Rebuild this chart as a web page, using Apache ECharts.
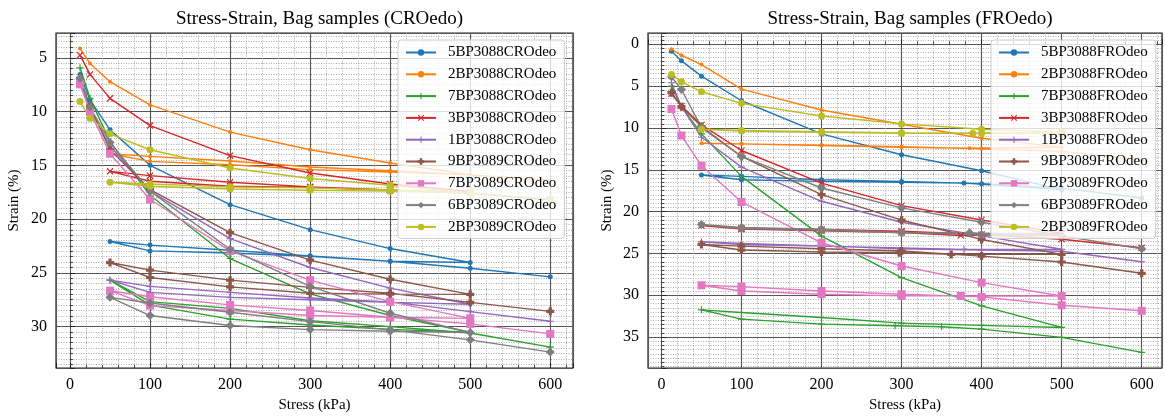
<!DOCTYPE html>
<html><head><meta charset="utf-8">
<script src="https://cdn.jsdelivr.net/npm/echarts@6/dist/echarts.min.js"></script>
<style>html,body{margin:0;padding:0;background:#fff}#c{width:1165px;height:419px}</style>
</head><body><div id="c"></div>
<script>
// ---------- data ----------
const SAMPLES = ['5BP3088','2BP3088','7BP3088','3BP3088','1BP3088','9BP3089','7BP3089','6BP3089','2BP3089'];
const TITLES = ['Stress-Strain, Bag samples (CROedo)', 'Stress-Strain, Bag samples (FROedo)'];
const X_LABEL = 'Stress (kPa)';
const Y_LABEL = 'Strain (%)';

// CRO: load 12.5..500, unload 400..50, reload 100..600
const STRESS_CRO = [12.5,25,50,100,200,300,400,500, 400,300,200,100,50, 100,200,300,400,500,600];
const CRO_5BP3088 = [6.54,8.92,11.70,15.0,18.66,20.98,22.74,24.04, 23.92,23.45,23.15,22.96,22.08, 22.42,22.9,23.42,23.92,24.57,25.37];
const CRO_2BP3088 = [4.14,5.52,7.22,9.38,11.91,13.55,14.78,15.86, 15.62,15.40,14.95,14.63,13.92, 14.17,14.6,15.15,15.5,15.9,16.4];
const CRO_7BP3088 = [5.93,8.77,12.8,17.78,23.67,26.96,28.97,30.52, 30.26,29.85,29.3,28.0,25.68, 27.68,28.3,29.45,30.0,30.59,31.91];
const CRO_3BP3088 = [4.75,6.54,8.77,11.30,14.10,15.71,16.73,17.45, 17.35,17.05,16.94,16.48,15.56, 15.96,16.57,17.0,17.3,17.6,18.2];
const CRO_1BP3088 = [7.07,9.85,13.2,17.4,21.82,24.5,26.42,27.92, 27.75,27.5,27.28,26.82,25.68, 26.26,26.82,27.34,27.7,28.61,29.5];
const CRO_9BP3089 = [6.9,9.5,13.55,17.25,21.26,23.82,25.6,27.0, 26.98,26.9,26.3,25.43,24.04, 24.75,25.68,26.35,26.9,27.75,28.58];
const CRO_7BP3089 = [7.47,10.0,13.92,18.18,22.96,25.68,27.68,29.23, 29.13,28.97,28.5,28.05,26.66, 27.22,27.98,28.5,29.13,29.75,30.68];
const CRO_6BP3089 = [6.91,9.6,12.87,17.4,22.8,26.26,28.76,30.55, 30.43,30.28,29.9,28.97,27.28, 27.8,28.66,29.54,30.3,31.23,32.37];
const CRO_2BP3089 = [9.07,10.62,12.07,13.55,15.25,16.23,16.85,17.56, 17.4,17.31,17.2,16.94,16.57, 16.73,17.0,17.1,17.3,17.56,18.15];

// FRO: measured stresses per sample
const FRO_5BP3088_STRESS = [12.5,25,50,100,200,300,400,500, 378,300,200,100,50, 100,200,300,400,500,600];
const FRO_5BP3088 = [0.83,1.98,3.81,6.75,10.71,13.21,15.12,17.38, 16.59,16.5,16.39,16.19,15.63, 15.79,16.19,16.39,16.67,17.2,18.37];
const FRO_2BP3088_STRESS = [12.5,25,50,100,200,300,400,500, 385,300,200,100,50, 100,200,300,400,500,600];
const FRO_2BP3088 = [0.6,1.31,2.42,5.36,7.86,9.56,11.23,12.3, 12.42,12.3,12.1,11.9,11.83, 11.9,12.05,12.25,12.5,12.8,13.85];
const FRO_7BP3088_STRESS = [12.5,25,50,100,200,300,400,500, 400,300,200,100,50, 100,200,292,350,400,500,600];
const FRO_7BP3088 = [5.0,7.46,10.71,15.79,22.94,27.9,31.27,33.85, 33.6,33.33,32.66,32.06,31.75, 32.86,33.45,33.65,33.77,34.05,35.04,36.83];
const FRO_3BP3088_STRESS = [12.5,25,50,100,200,300,400,500, 374,300,200,100,50, 100,200,300,400,500,600];
const FRO_3BP3088 = [5.9,7.38,9.64,12.7,16.59,19.29,21.0,22.6, 22.86,22.5,22.3,22.1,21.67, 21.98,22.14,22.34,22.74,23.3,24.33];
const FRO_1BP3088_STRESS = [12.5,25,50,100,200,300,400,500, 378,300,200,100,50, 100,200,300,400,500,600];
const FRO_1BP3088 = [4.6,7.46,11.11,14.68,18.77,21.27,22.9,24.5, 24.52,24.35,24.13,23.93,23.61, 23.8,24.1,24.44,24.6,24.75,25.99];
const FRO_9BP3089_STRESS = [12.5,25,50,100,200,300,400,500, 362,297,200,100,50, 100,200,300,400,500,600];
const FRO_9BP3089 = [5.79,7.46,9.84,13.41,17.98,21.03,23.33,25.12, 25.12,24.92,24.84,24.6,23.93, 24.13,24.44,24.72,25.32,26.03,27.38];
const FRO_7BP3089_STRESS = [12.5,25,50,100,200,300,400,500, 374,300,200,100,50, 100,200,300,400,500,600];
const FRO_7BP3089 = [7.74,10.91,14.52,18.85,23.73,26.51,28.49,30.1, 30.08,30.08,29.88,29.49,28.81, 28.97,29.49,29.88,30.2,31.2,31.86];
const FRO_6BP3089_STRESS = [12.5,25,50,100,200,300,400,500, 385,300,200,100,50, 100,200,300,400,500,600];
const FRO_6BP3089 = [3.89,5.4,9.96,13.41,17.18,19.56,21.27,22.86, 22.54,22.54,22.22,22.02,21.55, 21.9,22.1,22.5,22.74,22.9,24.44];
const FRO_2BP3089_STRESS = [12.5,25,50,100,200,300,400,500, 389,300,200,100,50, 100,200,300,400,500];
const FRO_2BP3089 = [3.61,4.48,5.67,7.06,8.57,9.52,10.16,10.5, 10.63,10.63,10.52,10.36,10.16, 10.3,10.45,10.6,10.63,10.71];

// ---------- styling ----------
const COLORS = ['#1f77b4','#ff7f0e','#2ca02c','#d62728','#9467bd','#8c564b','#e377c2','#7f7f7f','#bcbd22'];
const PLUS_THIN = 'path://M0,4.2H10V5.8H0Z M4.2,0H5.8V10H4.2Z';
const PLUS_FILL = 'path://M3,0H7V3H10V7H7V10H3V7H0V3H3Z';
const XMARK = 'path://M1.2,0L5,3.8L8.8,0L10,1.2L6.2,5L10,8.8L8.8,10L5,6.2L1.2,10L0,8.8L3.8,5L0,1.2Z';
const SYMBOLS = ['circle','circle',PLUS_THIN,XMARK,PLUS_THIN,PLUS_FILL,'rect','diamond','circle'];
const SIZES = [5,4,7,7,7,8,8,9,7];
const FONT = 'Liberation Serif';

const croData = [CRO_5BP3088,CRO_2BP3088,CRO_7BP3088,CRO_3BP3088,CRO_1BP3088,CRO_9BP3089,CRO_7BP3089,CRO_6BP3089,CRO_2BP3089];
const froStress = [FRO_5BP3088_STRESS,FRO_2BP3088_STRESS,FRO_7BP3088_STRESS,FRO_3BP3088_STRESS,FRO_1BP3088_STRESS,FRO_9BP3089_STRESS,FRO_7BP3089_STRESS,FRO_6BP3089_STRESS,FRO_2BP3089_STRESS];
const froData = [FRO_5BP3088,FRO_2BP3088,FRO_7BP3088,FRO_3BP3088,FRO_1BP3088,FRO_9BP3089,FRO_7BP3089,FRO_6BP3089,FRO_2BP3089];

function mk(name, stress, strain, i, g) {
  return {
    type: 'line', name: name, xAxisIndex: g, yAxisIndex: g,
    data: stress.map((s, k) => [s, strain[k]]),
    symbol: SYMBOLS[i], symbolSize: SIZES[i], showSymbol: true,
    lineStyle: { width: 1.4, color: COLORS[i] },
    itemStyle: { color: COLORS[i] },
    emphasis: { disabled: true }, animation: false, silent: true
  };
}
const series = [];
const namesCRO = [], namesFRO = [];
SAMPLES.forEach((s, i) => {
  const n = s + 'CROdeo'; namesCRO.push(n);
  series.push(mk(n, STRESS_CRO, croData[i], i, 0));
});
SAMPLES.forEach((s, i) => {
  const n = s + 'FROdeo'; namesFRO.push(n);
  series.push(mk(n, froStress[i], froData[i], i, 1));
});

const GRIDS = [
  { left: 56, top: 33, width: 517, height: 335 },
  { left: 648, top: 33, width: 514, height: 335 }
];
const YR = [[2.69, 33.85], [-1.35, 38.7]];
const XR = [[-17.5, 628.4], [-16.8, 625.4]];

function mult(v, m) { return Math.abs(v / m - Math.round(v / m)) < 1e-6; }

function xAxis(g) {
  return {
    type: 'value', gridIndex: g, min: XR[g][0], max: XR[g][1], splitNumber: 6,
    name: X_LABEL, nameLocation: 'middle', nameGap: 30,
    nameTextStyle: { fontFamily: FONT, fontSize: 15, color: '#000' },
    axisLine: { show: false },
    axisTick: { show: true, inside: true, length: 5, lineStyle: { color: '#222', width: 1 } },
    minorTick: { show: true, splitNumber: 5, length: 3, lineStyle: { color: '#222', width: 0.8 } },
    axisLabel: { fontFamily: FONT, fontSize: 16, color: '#000', margin: 9, showMinLabel: false, showMaxLabel: false,
      formatter: v => mult(v, 100) ? String(Math.round(v)) : '' },
    splitLine: { show: true, lineStyle: { color: '#555', width: 1.1 } },
    minorSplitLine: { show: true, lineStyle: { color: '#9a9a9a', width: 0.8, type: [1, 1.5] } }
  };
}
function yAxis(g) {
  return {
    type: 'value', gridIndex: g, inverse: true, min: YR[g][0], max: YR[g][1], splitNumber: 6,
    name: Y_LABEL, nameLocation: 'middle', nameGap: g === 0 ? 34 : 33,
    nameTextStyle: { fontFamily: FONT, fontSize: 15, color: '#000' },
    axisLine: { show: false },
    axisTick: { show: true, inside: true, length: 5, lineStyle: { color: '#222', width: 1 } },
    minorTick: { show: true, splitNumber: 10, length: 3, lineStyle: { color: '#222', width: 0.8 } },
    axisLabel: { fontFamily: FONT, fontSize: 16, color: '#000', margin: 9, showMinLabel: false, showMaxLabel: false,
      formatter: v => mult(v, 5) ? String(Math.round(v)) : '' },
    splitLine: { show: true, lineStyle: { color: '#555', width: 1.1 } },
    minorSplitLine: { show: true, lineStyle: { color: '#9a9a9a', width: 0.8, type: [1, 1.5] } }
  };
}
function legend(names, left) {
  return {
    data: names, orient: 'vertical', left: left, top: 40,
    itemWidth: 30, itemHeight: 8, itemGap: 6.8,
    padding: [5, 8, 4, 7],
    backgroundColor: 'rgba(255,255,255,0.8)', borderColor: '#cccccc', borderWidth: 1, borderRadius: 3,
    textStyle: { fontFamily: FONT, fontSize: 15, color: '#000', padding: [0, 0, 0, 7], lineHeight: 15 },
    selectedMode: false
  };
}

const chart = echarts.init(document.getElementById('c'), null, { renderer: 'canvas' });
chart.setOption({
  backgroundColor: '#fff',
  animation: false,
  title: [
    { text: TITLES[0], left: 314.5, textAlign: 'center', top: 5, textStyle: { fontFamily: FONT, fontSize: 19, fontWeight: 'normal', color: '#000' } },
    { text: TITLES[1], left: 905, textAlign: 'center', top: 5, textStyle: { fontFamily: FONT, fontSize: 19, fontWeight: 'normal', color: '#000' } }
  ],
  grid: GRIDS.map(g => Object.assign({ show: true, borderColor: '#222', borderWidth: 1.2, backgroundColor: 'transparent' }, g)),
  xAxis: [xAxis(0), xAxis(1)],
  yAxis: [yAxis(0), yAxis(1)],
  legend: [legend(namesCRO, 398), legend(namesFRO, 991)],
  series: series
});
</script></body></html>
